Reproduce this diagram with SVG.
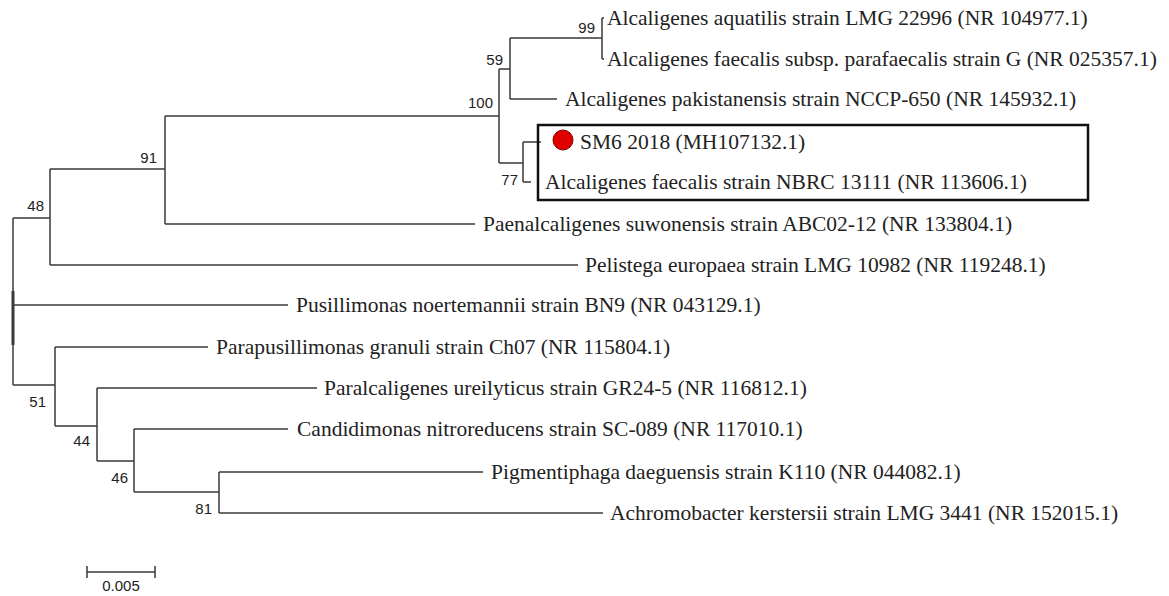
<svg xmlns="http://www.w3.org/2000/svg" width="1169" height="596" viewBox="0 0 1169 596">
<style>
.br{fill:none;stroke:#3a3a3a;stroke-width:1.5}
.lf{font-family:"Liberation Serif","Times New Roman",serif;font-size:21.5px;fill:#222}
.bs{font-family:"Liberation Sans",Arial,sans-serif;font-size:15px;fill:#222;text-anchor:end}
</style>
<rect width="1169" height="596" fill="#fff"/>
<g id="connectors" class="br">
<path d="M13,218 V385"/>
<path d="M13,291 V345" stroke-width="3"/>
<path d="M13,218 H50 M50,169 V265"/>
<path d="M50,169 H165 M165,116 V224"/>
<path d="M165,116 H499 M499,69 V163"/>
<path d="M499,69 H510 M510,38 V99"/>
<path d="M510,38 H602 M602,18 V59"/>
<path d="M602,18 H604 M602,59 H604"/>
<path d="M510,99 H557"/>
<path d="M499,163 H523 M523,142 V182"/>
<path d="M523,142 H541 M523,182 H531"/>
<path d="M165,224 H475"/>
<path d="M50,265 H578"/>
<path d="M13,305 H288"/>
<path d="M13,385 H55 M55,347 V426"/>
<path d="M55,347 H208"/>
<path d="M55,426 H97 M97,388 V461"/>
<path d="M97,388 H317"/>
<path d="M97,461 H134 M134,429 V492"/>
<path d="M134,429 H288"/>
<path d="M134,492 H219 M219,472 V513"/>
<path d="M219,472 H483"/>
<path d="M219,513 H603"/>
</g>
<g id="bootstrap">
<text class="bs" x="595" y="33">99</text>
<text class="bs" x="503" y="65">59</text>
<text class="bs" x="493" y="108">100</text>
<text class="bs" x="518" y="185">77</text>
<text class="bs" x="157" y="163">91</text>
<text class="bs" x="44" y="211">48</text>
<text class="bs" x="46" y="407">51</text>
<text class="bs" x="90" y="446">44</text>
<text class="bs" x="128" y="483">46</text>
<text class="bs" x="212" y="514">81</text>
</g>
<g id="n-aquatilis"><text class="lf" x="607" y="25">Alcaligenes aquatilis strain LMG 22996 (NR 104977.1)</text></g>
<g id="n-parafaecalis"><text class="lf" x="607" y="66">Alcaligenes faecalis subsp. parafaecalis strain G (NR 025357.1)</text></g>
<g id="n-pakistanensis"><text class="lf" x="565" y="106">Alcaligenes pakistanensis strain NCCP-650 (NR 145932.1)</text></g>
<g id="highlight-box"><rect x="538" y="125" width="550" height="75" fill="none" stroke="#111" stroke-width="2.5"/></g>
<g id="n-sm6">
<circle cx="563" cy="140" r="10" fill="#e00000" stroke="#8a0000" stroke-width="1"/>
<text class="lf" x="580" y="149">SM6 2018 (MH107132.1)</text>
</g>
<g id="n-nbrc"><text class="lf" x="545" y="189">Alcaligenes faecalis strain NBRC 13111 (NR 113606.1)</text></g>
<g id="n-paenalcaligenes"><text class="lf" x="483" y="231">Paenalcaligenes suwonensis strain ABC02-12 (NR 133804.1)</text></g>
<g id="n-pelistega"><text class="lf" x="585" y="272">Pelistega europaea strain LMG 10982 (NR 119248.1)</text></g>
<g id="n-pusillimonas"><text class="lf" x="296" y="312">Pusillimonas noertemannii strain BN9 (NR 043129.1)</text></g>
<g id="n-parapusillimonas"><text class="lf" x="216" y="354">Parapusillimonas granuli strain Ch07 (NR 115804.1)</text></g>
<g id="n-paralcaligenes"><text class="lf" x="324" y="395">Paralcaligenes ureilyticus strain GR24-5 (NR 116812.1)</text></g>
<g id="n-candidimonas"><text class="lf" x="297" y="436">Candidimonas nitroreducens strain SC-089 (NR 117010.1)</text></g>
<g id="n-pigmentiphaga"><text class="lf" x="491" y="479">Pigmentiphaga daeguensis strain K110 (NR 044082.1)</text></g>
<g id="n-achromobacter"><text class="lf" x="610" y="520">Achromobacter kerstersii strain LMG 3441 (NR 152015.1)</text></g>
<g id="scale-bar">
<path class="br" d="M87,572 H155 M87,566 V578 M155,566 V578"/>
<text class="bs" x="121" y="591" style="text-anchor:middle">0.005</text>
</g>
</svg>
